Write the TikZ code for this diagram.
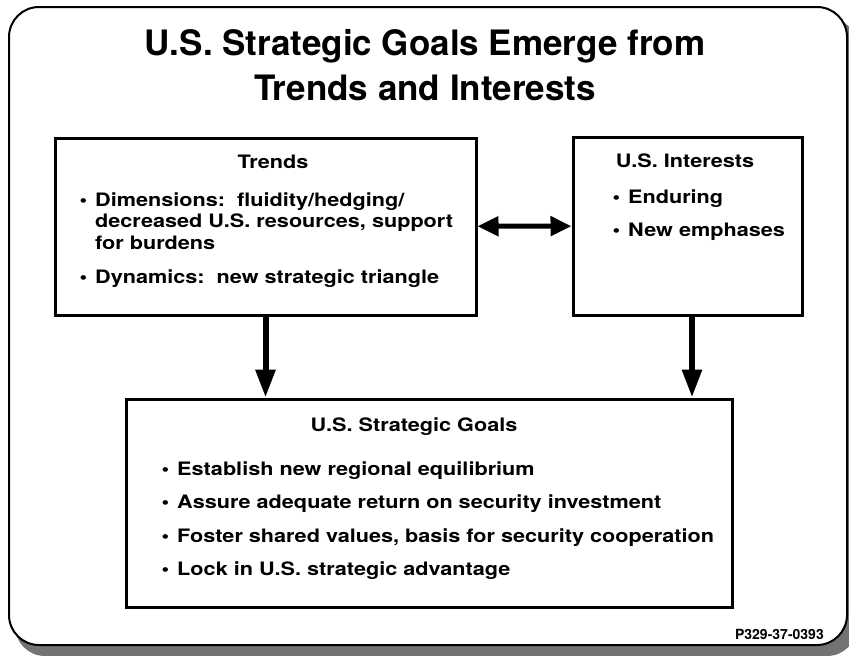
\documentclass[tikz,border=0pt]{standalone}
\usepackage{fontspec}
\setmainfont{TeX Gyre Heros}
\newfontfamily\widefont{TeX Gyre Heros}[FakeStretch=1.17]
\usetikzlibrary{arrows.meta, positioning}

\newcommand{\blt}{\llap{\textbullet\hspace{8pt}}}

\tikzset{
	panel/.style={draw, line width=3pt, inner sep=0pt},
	head/.style={font=\widefont\bfseries\fontsize{18.5}{21.5}\selectfont, anchor=base, inner sep=0pt},
	item/.style={font=\widefont\bfseries\fontsize{18.5}{21.5}\selectfont, anchor=base west, align=left, inner sep=0pt},
	fat/.style={line width=6pt, -{Triangle[length=28pt, width=19pt]}},
	twoway/.style={line width=5pt, {Triangle[length=21pt, width=19pt]}-{Triangle[length=21pt, width=19pt]}}
}

\begin{document}
\begin{tikzpicture}[x=1pt, y=-1pt]
	\useasboundingbox (0,0) rectangle (849,656);

	% frame %
	\fill[black!55, rounded corners=30pt] (15,17) rectangle (857,656);
	\draw[fill=white, line width=2pt, rounded corners=30pt] (9,7) rectangle (847,645);

	% title %
	\node[font=\bfseries\fontsize{35}{45}\selectfont, align=center, anchor=base, inner sep=0pt] (title) at (425,100)
		{U.S. Strategic Goals Emerge from\\Trends and Interests};

	% boxes %
	\node[panel, minimum width=421pt, minimum height=177pt] (trends) at (265.5,226.5) {};
	\node[panel, minimum width=229pt, minimum height=178pt] (interests) at (687.5,226) {};
	\node[panel, minimum width=606pt, minimum height=208pt] (goals) at (429,503) {};

	% box texts %
	\node[head] (trendshead) at (273,168) {Trends};
	\node[item] (dims) at (95,249) {\blt Dimensions:\ \ fluidity/hedging/\\decreased U.S. resources, support\\for burdens};
	\node[item] (dyn) at (95,283) {\blt Dynamics:\ \ new strategic triangle};

	\node[head] (intshead) at (685,167) {U.S. Interests};
	\node[item] (endur) at (628,203) {\blt Enduring};
	\node[item] (emph) at (628,236) {\blt New emphases};

	\node[head] (goalshead) at (414,431) {U.S. Strategic Goals};
	\node[item] (g1) at (177,475) {\blt Establish new regional equilibrium};
	\node[item] (g2) at (177,508.5) {\blt Assure adequate return on security investment};
	\node[item] (g3) at (177,542) {\blt Foster shared values, basis for security cooperation};
	\node[item] (g4) at (177,575.5) {\blt Lock in U.S. strategic advantage};

	\node[font=\bfseries\fontsize{14}{14}\selectfont, anchor=base east, inner sep=0pt] (code) at (824,639) {P329-37-0393};

	% edges %
	\draw[twoway] (trends) -- (interests);
	\draw[fat] (trends.south) -- (trends.south |- goals.north);
	\draw[fat] ([xshift=4.5pt]interests.south) -- ([xshift=4.5pt]interests.south |- goals.north);
\end{tikzpicture}
\end{document}
